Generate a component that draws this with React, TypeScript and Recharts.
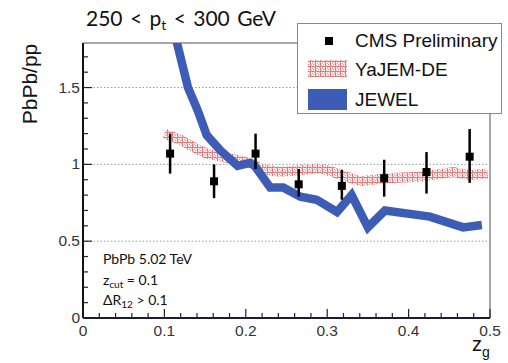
import React from "react";
import {
  ComposedChart,
  Line,
  Scatter,
  ErrorBar,
  XAxis,
  YAxis,
  ReferenceLine,
} from "recharts";

// ---- data ----
const cmsX = [0.107, 0.161, 0.212, 0.265, 0.318, 0.37, 0.422, 0.475];
const cmsY = [1.07, 0.89, 1.07, 0.87, 0.86, 0.91, 0.95, 1.05];
const cmsErrUp = [0.13, 0.11, 0.13, 0.1, 0.105, 0.12, 0.13, 0.18];
const cmsErrDown = [0.13, 0.11, 0.1, 0.08, 0.09, 0.12, 0.14, 0.17];

const yajemX = [0.1, 0.12, 0.14, 0.152, 0.17, 0.193, 0.21, 0.218, 0.242, 0.263, 0.29, 0.307, 0.34, 0.373, 0.414, 0.455, 0.475, 0.497];
const yajemY = [1.2, 1.16, 1.1, 1.07, 1.05, 1.025, 1.0, 0.97, 0.95, 0.96, 0.975, 0.95, 0.89, 0.91, 0.92, 0.95, 0.93, 0.94];

const jewelX = [0.11, 0.1155, 0.129, 0.141, 0.152, 0.169, 0.19, 0.205, 0.211, 0.23, 0.246, 0.267, 0.287, 0.312, 0.33, 0.35, 0.371, 0.426, 0.467, 0.49];
const jewelY = [1.92, 1.79, 1.5, 1.35, 1.19, 1.09, 0.99, 1.01, 0.99, 0.85, 0.85, 0.79, 0.77, 0.69, 0.8, 0.59, 0.7, 0.66, 0.59, 0.605];

const xTicks = Array.from({ length: 26 }, (_, i) => Math.round(i * 2) / 100);
const yTicks = Array.from({ length: 18 }, (_, i) => i / 10);
const xMajor = [0, 0.1, 0.2, 0.3, 0.4, 0.5];
const yMajor = [0, 0.5, 1, 1.5];
const gridY = [0.5, 1, 1.5];
const Y_MAX = 1.79;
const X_MAX = 0.5;

const cmsData = cmsX.map((x, i) => ({ x, y: cmsY[i], err: [cmsErrDown[i], cmsErrUp[i]] }));
const yajemData = yajemX.map((x, i) => ({ x, y: yajemY[i] }));
const jewelData = jewelX.map((x, i) => ({ x, y: jewelY[i] }));

const BLUE = "#3d5cb6";
const RED = "#d84a4c";
const TICK_FONT = "'Liberation Sans', Arial, sans-serif";

const near = (v: number, arr: number[]) => arr.some((a) => Math.abs(a - v) < 1e-6);

const YTick = (props: any) => {
  const { x, y, payload } = props;
  const major = near(payload.value, yMajor);
  return (
    <g>
      <line x1={x} x2={x + (major ? 9 : 5)} y1={y} y2={y} stroke="#222" strokeWidth={1.2} />
      {major && (
        <text x={x - 3} y={y} dy={5} textAnchor="end" fontSize={15.5} fontFamily={TICK_FONT} fill="#333">
          {String(payload.value)}
        </text>
      )}
    </g>
  );
};

const XTick = (props: any) => {
  const { x, y, payload } = props;
  const major = near(payload.value, xMajor);
  return (
    <g>
      <line x1={x} x2={x} y1={y} y2={y - (major ? 9 : 5)} stroke="#222" strokeWidth={1.2} />
      {major && (
        <text x={x} y={y} dy={18} textAnchor="middle" fontSize={15.5} fontFamily={TICK_FONT} fill="#333">
          {String(payload.value)}
        </text>
      )}
    </g>
  );
};

const SquareDot = (props: any) => {
  const { cx, cy } = props;
  if (cx == null || cy == null) return null;
  return <rect x={cx - 4} y={cy - 4} width={8} height={8} fill="#000" />;
};

const HatchDef = ({ id }: { id: string }) => (
  <pattern id={id} patternUnits="userSpaceOnUse" width={5} height={5}>
    <rect width={5} height={5} fill="#fff" />
    <circle cx={1.25} cy={1.25} r={1.6} fill="none" stroke={RED} strokeWidth={0.9} />
    <circle cx={3.75} cy={3.75} r={1.6} fill="none" stroke={RED} strokeWidth={0.9} />
  </pattern>
);

const calibri = "Lato, 'Open Sans', sans-serif";

export default function App() {
  return (
    <div style={{ position: "absolute", left: 0, top: 0, width: 508, height: 363, background: "#fff" }}>
      <ComposedChart
        width={508}
        height={363}
        margin={{ top: 43, right: 18, bottom: 25, left: 53 }}
      >
        <defs>
          <HatchDef id="hatchMain" />
        </defs>
        <XAxis
          dataKey="x"
          type="number"
          domain={[0, X_MAX]}
          ticks={xTicks}
          interval={0}
          tick={<XTick />}
          tickLine={false}
          tickSize={0}
          tickMargin={0}
          height={20}
          axisLine={{ stroke: "#1c1c3a", strokeWidth: 2 }}
          allowDataOverflow
        />
        <YAxis
          dataKey="y"
          type="number"
          domain={[0, Y_MAX]}
          ticks={yTicks}
          interval={0}
          tick={<YTick />}
          tickLine={false}
          tickSize={0}
          tickMargin={0}
          width={30}
          axisLine={{ stroke: "#111", strokeWidth: 2 }}
          allowDataOverflow
        />
        {gridY.map((g) => (
          <ReferenceLine key={g} y={g} stroke="#999" strokeDasharray="1.5 2" strokeWidth={1} />
        ))}
        <ReferenceLine y={Y_MAX} stroke="#8a8a8a" strokeWidth={1.5} />
        <ReferenceLine x={X_MAX} stroke="#8a8a8a" strokeWidth={1.5} />
        <Line
          data={yajemData}
          dataKey="y"
          type="linear"
          stroke="url(#hatchMain)"
          strokeWidth={10}
          dot={false}
          activeDot={false}
          isAnimationActive={false}
        />
        <Line
          data={jewelData}
          dataKey="y"
          type="linear"
          stroke={BLUE}
          strokeWidth={8.5}
          dot={false}
          activeDot={false}
          isAnimationActive={false}
        />
        <Scatter data={cmsData} dataKey="y" shape={<SquareDot />} isAnimationActive={false}>
          <ErrorBar dataKey="err" direction="y" width={0} stroke="#000" strokeWidth={2.5} />
        </Scatter>
      </ComposedChart>

      {/* Title */}
      <div style={{ position: "absolute", left: 86, top: 5, fontFamily: calibri, fontSize: 21, wordSpacing: 2, color: "#111", whiteSpace: "nowrap", lineHeight: "26px" }}>
        250 &lt; p<sub style={{ fontSize: 14, verticalAlign: "-4px", lineHeight: 0 }}>t</sub> &lt; 300 GeV
      </div>

      {/* Y axis label */}
      <div
        style={{
          position: "absolute",
          left: 30,
          top: 84,
          transform: "translate(-50%, -50%) rotate(-90deg)",
          fontFamily: TICK_FONT,
          fontSize: 21,
          color: "#111",
          whiteSpace: "nowrap",
          lineHeight: "24px",
        }}
      >
        PbPb/pp
      </div>

      {/* X axis label */}
      <div style={{ position: "absolute", left: 472, top: 334, fontFamily: TICK_FONT, fontSize: 20, color: "#111", whiteSpace: "nowrap", lineHeight: "20px" }}>
        z<sub style={{ fontSize: 14, verticalAlign: "-6px", lineHeight: 0 }}>g</sub>
      </div>

      {/* annotations */}
      <div style={{ position: "absolute", left: 103, top: 249, fontFamily: calibri, fontSize: 14, color: "#111", lineHeight: "20.5px", whiteSpace: "nowrap" }}>
        <div>PbPb 5.02 TeV</div>
        <div>
          z<sub style={{ fontSize: 10, verticalAlign: "-3px", lineHeight: 0 }}>cut</sub> = 0.1
        </div>
        <div>
          ΔR<sub style={{ fontSize: 10, verticalAlign: "-3px", lineHeight: 0 }}>12</sub> &gt; 0.1
        </div>
      </div>

      {/* Legend */}
      <div
        style={{
          position: "absolute",
          left: 297,
          top: 23,
          width: 205,
          height: 91,
          border: "1.5px solid #8a8a8a",
          background: "#fff",
          boxSizing: "border-box",
        }}
      >
        <svg width={205} height={91} style={{ position: "absolute", left: 0, top: 0 }}>
          <defs>
            <HatchDef id="hatchLegend" />
          </defs>
          <rect x={27} y={13} width={8} height={8} fill="#000" />
          <rect x={10} y={36} width={39} height={17} fill="url(#hatchLegend)" />
          <rect x={10} y={65} width={39} height={21} fill={BLUE} />
        </svg>
        <div style={{ position: "absolute", left: 57, top: 5, fontFamily: TICK_FONT, fontSize: 19, color: "#111", lineHeight: "24px", whiteSpace: "nowrap" }}>
          CMS Preliminary
        </div>
        <div style={{ position: "absolute", left: 57, top: 34, fontFamily: TICK_FONT, fontSize: 19, color: "#111", lineHeight: "24px", whiteSpace: "nowrap" }}>
          YaJEM-DE
        </div>
        <div style={{ position: "absolute", left: 57, top: 64, fontFamily: TICK_FONT, fontSize: 19, color: "#111", lineHeight: "24px", whiteSpace: "nowrap" }}>
          JEWEL
        </div>
      </div>
    </div>
  );
}
